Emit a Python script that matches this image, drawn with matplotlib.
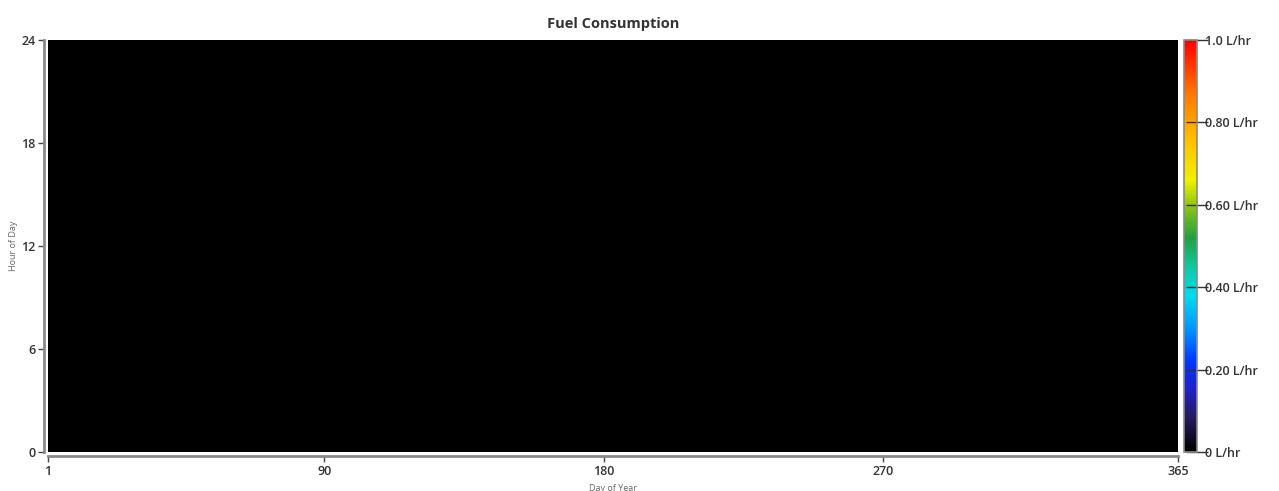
import numpy as np
import matplotlib
matplotlib.use("Agg")
import matplotlib.pyplot as plt
from matplotlib.colors import LinearSegmentedColormap

# hourly fuel use over the year (L/hr); generator never ran
days = np.arange(1, 366)
hours = np.arange(0, 24)
fuel = np.zeros((len(hours), len(days)))

x_ticks = [1, 90, 180, 270, 365]
y_ticks = [0, 6, 12, 18, 24]
cbar_ticks = [0, 0.2, 0.4, 0.6, 0.8, 1.0]
cbar_labels = ["0 L/hr", "0.20 L/hr", "0.40 L/hr", "0.60 L/hr", "0.80 L/hr", "1.0 L/hr"]

plt.rcParams["font.family"] = ["Open Sans", "DejaVu Sans"]

cmap = LinearSegmentedColormap.from_list("fuel", [
    (0.00, "#000000"),
    (0.08, "#241a5a"),
    (0.15, "#2020c8"),
    (0.22, "#0038ff"),
    (0.30, "#0098ff"),
    (0.38, "#00dcf0"),
    (0.45, "#10c8a0"),
    (0.52, "#20a040"),
    (0.60, "#90c810"),
    (0.66, "#f0f000"),
    (0.76, "#ffc000"),
    (0.88, "#ff7000"),
    (1.00, "#ff0000"),
])

fig = plt.figure(figsize=(12.79, 4.91), dpi=100)
ax = fig.add_axes([0.0375, 0.0794, 0.8835, 0.8391])
cax = fig.add_axes([0.9257, 0.0794, 0.0102, 0.8391])

im = ax.imshow(fuel, cmap=cmap, vmin=0, vmax=1, aspect="auto",
               origin="lower", extent=(days[0], days[-1], 0, 24),
               interpolation="nearest")

ax.set_xlim(1, 365)
ax.set_ylim(0, 24)
ax.set_xticks(x_ticks)
ax.set_yticks(y_ticks)
for side in ("top", "right"):
    ax.spines[side].set_visible(False)
for side in ("left", "bottom"):
    ax.spines[side].set_position(("outward", 3))
    ax.spines[side].set_color("#8a8a8a")
    ax.spines[side].set_linewidth(2)
ax.tick_params(length=4, width=1, color="#444444", labelsize=9,
               labelcolor="#333333", pad=2)
for lab in ax.get_xticklabels() + ax.get_yticklabels():
    lab.set_fontweight("semibold")

ax.set_xlabel("Day of Year", fontsize=6.5, color="#666666", labelpad=5)
ax.set_ylabel("Hour of Day", fontsize=6.5, color="#666666", labelpad=2)
ax.set_title("Fuel Consumption", fontsize=10.5, fontweight="bold",
             color="#333333", pad=9)

cb = fig.colorbar(im, cax=cax, ticks=cbar_ticks)
cb.ax.set_yticklabels(cbar_labels)
cb.outline.set_edgecolor("#8a8a8a")
cb.outline.set_linewidth(1.2)
cb.ax.tick_params(length=16, width=1, color="#333333", labelsize=9,
                  labelcolor="#333333", pad=-2, direction="inout")
for lab in cb.ax.get_yticklabels():
    lab.set_fontweight("semibold")

fig.savefig("out.png", dpi=100)
